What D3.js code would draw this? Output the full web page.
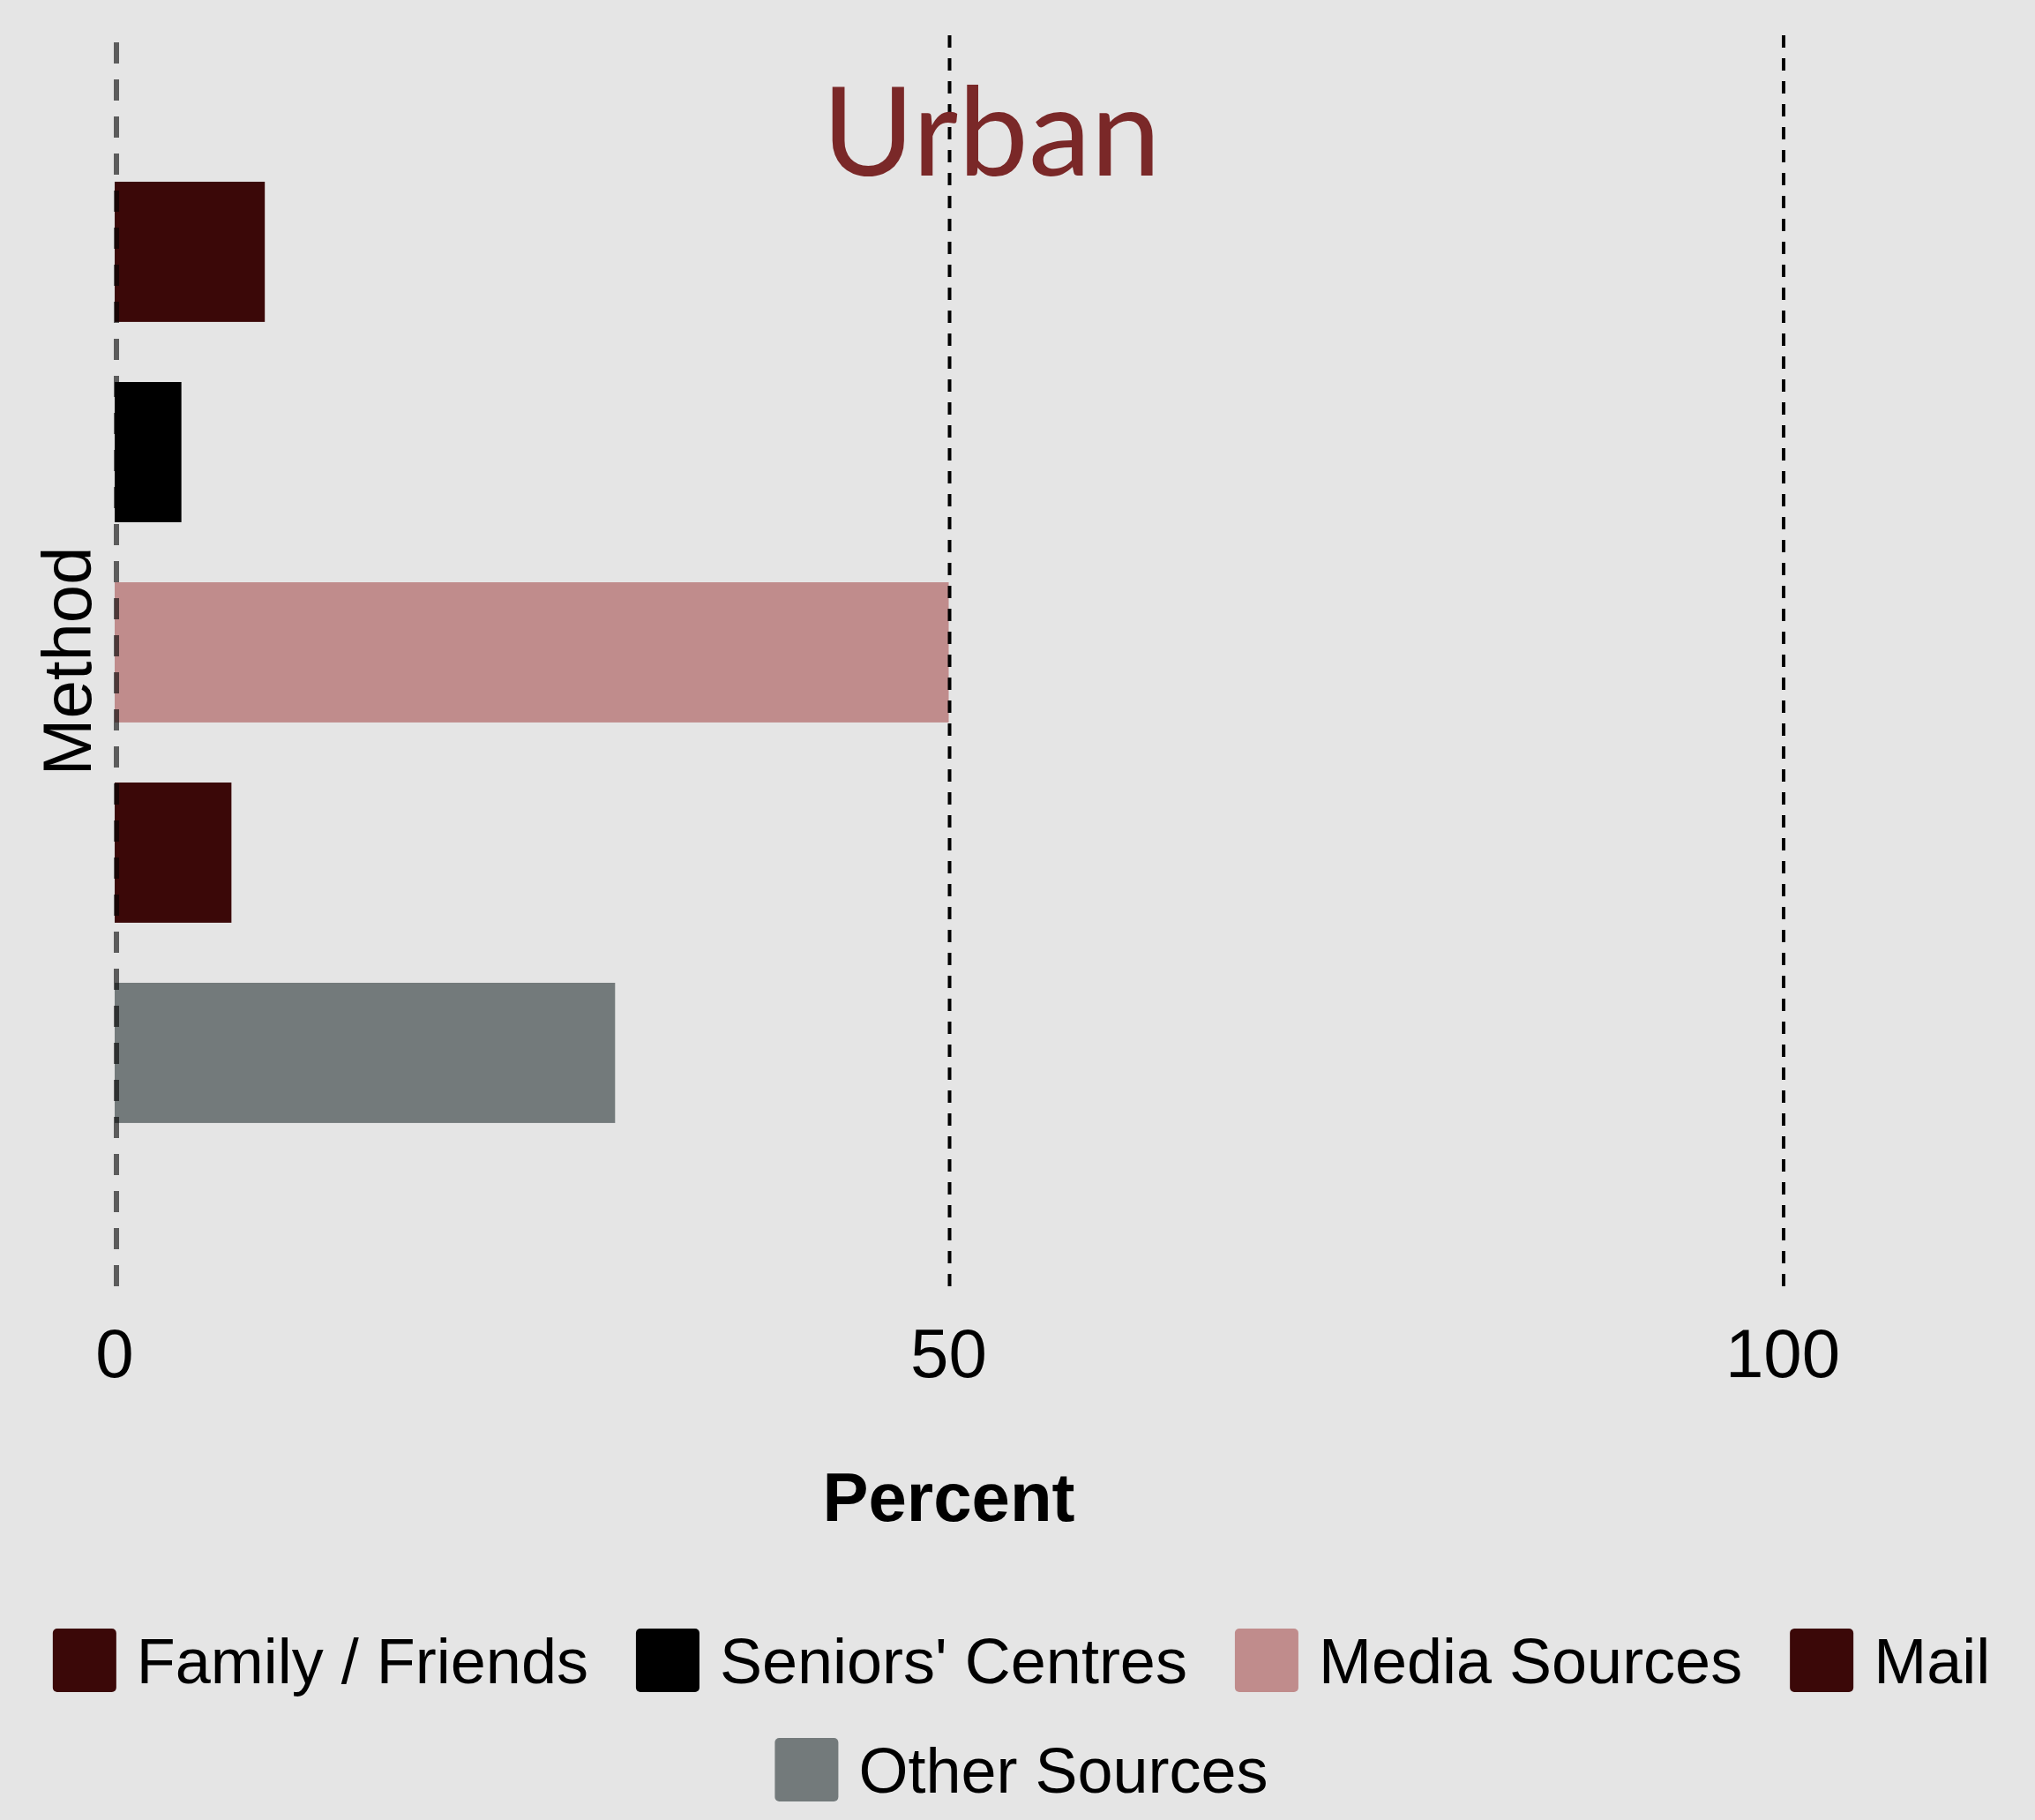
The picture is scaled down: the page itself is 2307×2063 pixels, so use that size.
<!DOCTYPE html>
<html>
<head>
<meta charset="utf-8">
<script src="https://cdn.jsdelivr.net/npm/d3@7"></script>
<style>
  html, body { margin: 0; padding: 0; background: #e5e5e5; }
  svg { display: block; }
</style>
</head>
<body>
<svg id="chart" width="2307" height="2063"></svg>
<script>
// data
var methods = ["Family / Friends", "Seniors' Centres", "Media Sources", "Mail", "Other Sources"]
var percents = [9, 4, 50, 7, 30]
var colours = ["#3b0808", "#000000", "#c08c8c", "#3b0808", "#737a7b"]
var xTicks = [0, 50, 100]
var refLines = [50, 100]

var width = 2307, height = 2063
var svg = d3.select("#chart")

svg.append("rect")
   .attr("width", width)
   .attr("height", height)
   .attr("fill", "#e5e5e5")

var x = d3.scaleLinear().domain([0, 100]).range([130, 2021])
var y = d3.scaleBand()
  .domain(methods)
  .range([40, 1458])
  .paddingInner(0.3)
  .paddingOuter(0.7733)
  .align(0.4728)

var colour = d3.scaleOrdinal().domain(methods).range(colours)

var rows = methods.map(function(m, i) { return { method: m, value: percents[i] } })

// bars
svg.selectAll("rect.bar")
   .data(rows)
   .enter()
   .append("rect")
   .attr("class", "bar")
   .attr("x", x(0))
   .attr("y", function(d) { return y(d.method) })
   .attr("width", function(d) { return x(d.value) - x(0) })
   .attr("height", y.bandwidth())
   .attr("fill", function(d) { return colour(d.method) })

// dashed reference lines at 50 and 100
svg.selectAll("line.ref")
   .data(refLines)
   .enter()
   .append("line")
   .attr("class", "ref")
   .attr("x1", function(d) { return x(d) + 1 })
   .attr("x2", function(d) { return x(d) + 1 })
   .attr("y1", 40)
   .attr("y2", 1458)
   .attr("stroke", "#000")
   .attr("stroke-width", 4)
   .attr("stroke-dasharray", "14,12")

// zero line, grey and see-through over the bars
svg.append("line")
   .attr("x1", x(0) + 2)
   .attr("x2", x(0) + 2)
   .attr("y1", 48)
   .attr("y2", 1458)
   .attr("stroke", "rgba(0,0,0,0.6)")
   .attr("stroke-width", 6)
   .attr("stroke-dasharray", "24,18")

// tick labels
svg.selectAll("text.tick")
   .data(xTicks)
   .enter()
   .append("text")
   .attr("class", "tick")
   .attr("x", function(d) { return x(d) })
   .attr("y", 1561)
   .attr("text-anchor", "middle")
   .attr("font-family", "'Liberation Sans', Arial, sans-serif")
   .attr("font-size", 78)
   .attr("fill", "#000")
   .text(function(d) { return d })

// axis titles
svg.append("text")
   .attr("x", (x(0) + x(100)) / 2)
   .attr("y", 1724)
   .attr("text-anchor", "middle")
   .attr("font-family", "'Liberation Sans', Arial, sans-serif")
   .attr("font-size", 78)
   .attr("font-weight", "bold")
   .text("Percent")

svg.append("text")
   .attr("transform", "translate(103,749.5) rotate(-90)")
   .attr("text-anchor", "middle")
   .attr("font-family", "'Liberation Sans', Arial, sans-serif")
   .attr("font-size", 78)
   .text("Method")

// title
svg.append("text")
   .attr("x", 1124)
   .attr("y", 199)
   .attr("text-anchor", "middle")
   .attr("font-family", "Lato, 'Open Sans', sans-serif")
   .attr("font-size", 140)
   .attr("fill", "#7a2828")
   .attr("textLength", 384)
   .attr("lengthAdjust", "spacingAndGlyphs")
   .text("Urban")

// legend, two centred rows
var legendRows = [methods.slice(0, 4), methods.slice(4)]
var rowCentres = [1882, 2006]
var keySize = 72, keyGap = 23, itemGap = 54, legendMid = 1158

legendRows.forEach(function(items, r) {
  var g = svg.append("g")
  var cursor = 0
  items.forEach(function(m) {
    var item = g.append("g").attr("transform", "translate(" + cursor + ",0)")
    item.append("rect")
        .attr("x", 0)
        .attr("y", rowCentres[r] - keySize / 2)
        .attr("width", keySize)
        .attr("height", keySize)
        .attr("rx", 5)
        .attr("fill", colour(m))
    var t = item.append("text")
        .attr("x", keySize + keyGap)
        .attr("y", rowCentres[r] + 26)
        .attr("font-family", "'Liberation Sans', Arial, sans-serif")
        .attr("font-size", 72)
        .attr("fill", "#000")
        .text(m)
    cursor += keySize + keyGap + t.node().getComputedTextLength() + itemGap
  })
  var total = cursor - itemGap
  g.attr("transform", "translate(" + (legendMid - total / 2) + ",0)")
})
</script>
</body>
</html>
